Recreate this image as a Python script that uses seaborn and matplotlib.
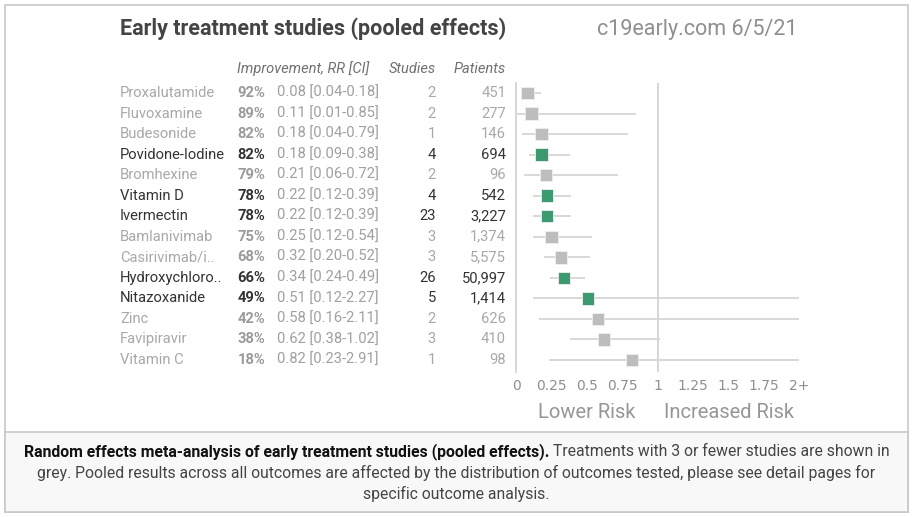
import pandas as pd
import matplotlib.pyplot as plt
import seaborn as sns
from matplotlib.transforms import blended_transform_factory
from matplotlib.patches import Rectangle

treatments = ['Proxalutamide', 'Fluvoxamine', 'Budesonide', 'Povidone-Iodine', 'Bromhexine',
              'Vitamin D', 'Ivermectin', 'Bamlanivimab', 'Casirivimab/i..', 'Hydroxychloro..',
              'Nitazoxanide', 'Zinc', 'Favipiravir', 'Vitamin C']
improvement = [92, 89, 82, 82, 79, 78, 78, 75, 68, 66, 49, 42, 38, 18]
rr = [0.08, 0.11, 0.18, 0.18, 0.21, 0.22, 0.22, 0.25, 0.32, 0.34, 0.51, 0.58, 0.62, 0.82]
ci_low = [0.04, 0.01, 0.04, 0.09, 0.06, 0.12, 0.12, 0.12, 0.20, 0.24, 0.12, 0.16, 0.38, 0.23]
ci_high = [0.18, 0.85, 0.79, 0.38, 0.72, 0.39, 0.39, 0.54, 0.52, 0.49, 2.27, 2.11, 1.02, 2.91]
studies = [2, 2, 1, 4, 2, 4, 23, 3, 3, 26, 5, 2, 3, 1]
patients = [451, 277, 146, 694, 96, 542, 3227, 1374, 5575, 50997, 1414, 626, 410, 98]
tick_vals = [0, 0.25, 0.5, 0.75, 1, 1.25, 1.5, 1.75, 2]
tick_labels = ['0', '0.25', '0.5', '0.75', '1', '1.25', '1.5', '1.75', '2+']

df = pd.DataFrame({'name': treatments, 'imp': improvement, 'rr': rr, 'lo': ci_low,
                   'hi': ci_high, 'studies': studies, 'patients': patients})
df['row'] = range(len(df))
df['group'] = ['more' if s > 3 else 'few' for s in df.studies]

W, H = 913, 517
sns.set_theme(style='white')
plt.rcParams['font.family'] = ['Roboto', 'DejaVu Sans']

fig = plt.figure(figsize=(W / 100, H / 100), dpi=100)


def fx(px):
    return px / W


def fy(py):
    return 1 - py / H


# frame and caption box
fig.patches.append(Rectangle((fx(5), fy(512)), fx(903), 507 / H, transform=fig.transFigure,
                             fill=False, edgecolor='#c8c8c8', lw=1.2))
fig.patches.append(Rectangle((fx(5), fy(512)), fx(903), 80 / H, transform=fig.transFigure,
                             facecolor='#f8f8f8', edgecolor='#c8c8c8', lw=1.2))

# plot axes: x 0..2 -> px 516..799, rows at px 93..360
top, bot = 83, 372
step = (360 - 93) / 13
ax = fig.add_axes([fx(516), fy(bot), (799 - 516) / W, (bot - top) / H])
ax.set_xlim(0, 2)
ax.set_ylim(13 + (bot - 360) / step, -(93 - top) / step)
ax.patch.set_alpha(0)

ax.hlines(df.row, df.lo, df.hi.clip(upper=2), color='#d6d6d6', lw=1.3, zorder=1)
ax.axvline(1, color='#cfcfcf', lw=1.2, zorder=0)
sns.scatterplot(data=df, x='rr', y='row', hue='group', palette={'more': '#3d9970', 'few': '#bdbdbd'},
                marker='s', s=80, edgecolor='#f0f0f0', linewidth=0.6, legend=False, ax=ax, zorder=3)

for side in ['top', 'right', 'bottom']:
    ax.spines[side].set_visible(False)
ax.spines['left'].set_color('#cfcfcf')
ax.spines['left'].set_linewidth(1.2)
ax.set_yticks([])
ax.set_xticks(tick_vals)
ax.set_xticklabels(tick_labels, family='DejaVu Sans', fontsize=10, color='#8f8f8f')
ax.tick_params(axis='x', length=0, pad=5)
ax.set_xlabel('')
ax.set_ylabel('')

# table text
fs = 10.6
tr = blended_transform_factory(fig.transFigure, ax.transData)
for _, r in df.iterrows():
    dark = r.group == 'more'
    c_name = '#333333' if dark else '#a8a8a8'
    c_pct = '#333333' if dark else '#9a9a9a'
    ax.text(fx(120), r.row, r['name'], transform=tr, ha='left', va='center', fontsize=fs, color=c_name)
    ax.text(fx(265), r.row, f"{r.imp}%", transform=tr, ha='right', va='center', fontsize=fs,
            fontweight='bold', color=c_pct)
    ax.text(fx(277), r.row, f"{r.rr:.2f} [{r.lo:.2f}-{r.hi:.2f}]", transform=tr, ha='left',
            va='center', fontsize=fs, color='#a0a0a0')
    ax.text(fx(436), r.row, str(r.studies), transform=tr, ha='right', va='center', fontsize=fs,
            color=c_name)
    ax.text(fx(506), r.row, f"{r.patients:,}", transform=tr, ha='right', va='center', fontsize=fs,
            color=c_name)

fig.text(fx(237), fy(69), 'Improvement, RR [CI]', ha='left', va='center', fontsize=10.5,
         style='italic', color='#707070')
fig.text(fx(436), fy(69), 'Studies', ha='right', va='center', fontsize=10.5, style='italic', color='#707070')
fig.text(fx(506), fy(69), 'Patients', ha='right', va='center', fontsize=10.5, style='italic', color='#707070')

# titles
fig.text(fx(120), fy(29), 'Early treatment studies (pooled effects)', ha='left', va='center',
         fontsize=15.5, fontweight='bold', color='#444444')
fig.text(fx(797), fy(29), 'c19early.com 6/5/21', ha='right', va='center', fontsize=15.5,
         color='#8f8f8f')
fig.text(fx(587), fy(413), 'Lower Risk', ha='center', va='center', fontsize=14.5,
         color='#969696')
fig.text(fx(729), fy(413), 'Increased Risk', ha='center', va='center', fontsize=14.5,
         color='#969696')

# caption
cfs = 11.3
bold_part = 'Random effects meta-analysis of early treatment studies (pooled effects).'
rest_part = ' Treatments with 3 or fewer studies are shown in'
t1 = fig.text(0, fy(452), bold_part, ha='left', va='center', fontsize=cfs, fontweight='bold', color='#111111')
t2 = fig.text(0, fy(452), rest_part, ha='left', va='center', fontsize=cfs, color='#444444')
fig.canvas.draw()
rend = fig.canvas.get_renderer()
w1 = t1.get_window_extent(rend).width
w2 = t2.get_window_extent(rend).width
x0 = W / 2 - (w1 + w2) / 2
t1.set_x(fx(x0))
t2.set_x(fx(x0 + w1))
fig.text(0.5, fy(473), 'grey. Pooled results across all outcomes are affected by the distribution of '
         'outcomes tested, please see detail pages for', ha='center', va='center', fontsize=cfs, color='#444444')
fig.text(0.5, fy(494), 'specific outcome analysis.', ha='center', va='center', fontsize=cfs, color='#444444')

fig.savefig('out.png', dpi=100)
